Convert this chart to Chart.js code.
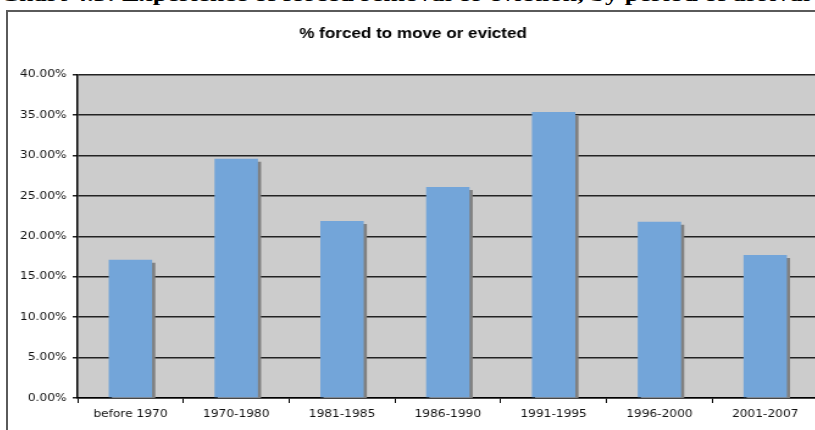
<!DOCTYPE html>
<html>
<head>
<meta charset="utf-8">
<script src="https://cdn.jsdelivr.net/npm/chart.js@4.4.1/dist/chart.umd.min.js"></script>
<style>
  html, body { margin: 0; padding: 0; background: #fff; overflow: hidden; }
  body { width: 815px; height: 430px; position: relative; }
  #cabecera {
    position: absolute; left: 0; top: -15px; white-space: nowrap;
    font: bold 19px "Liberation Serif", "Times New Roman", serif; line-height: 19px;
    transform-origin: left top; color: #000;
  }
  #marco {
    position: absolute; left: 6px; top: 10px; width: 860px; height: 440px;
    border: 2px solid #5a5a5a; background: #fff;
  }
  #estirar { position: absolute; left: 0; top: 0; transform: scaleX(1.22); transform-origin: left top; }
</style>
</head>
<body>
<div id="cabecera">Chart 4.3: Experience of forced removal or eviction, by period of arrival</div>
<div id="marco">
  <div id="estirar"><canvas id="grafico" width="672" height="420"></canvas></div>
</div>
<script>
const periodos = ['before 1970', '1970-1980', '1981-1985', '1986-1990', '1991-1995', '1996-2000', '2001-2007'];
const porcentajes = [17.1, 29.6, 21.9, 26.1, 35.4, 21.8, 17.7];
const marcasY = [0, 5, 10, 15, 20, 25, 30, 35, 40];
const titulo = '% forced to move or evicted';

// the header is stretched in the picture, fit it to the width
const cab = document.getElementById('cabecera');
cab.style.transform = 'scaleX(' + (810 / cab.offsetWidth) + ')';

const fondoGris = {
  id: 'fondoGris',
  beforeDraw(chart) {
    const { ctx, chartArea: a } = chart;
    ctx.save();
    ctx.fillStyle = '#cccccc';
    ctx.fillRect(a.left, a.top, a.right - a.left, a.bottom - a.top);
    ctx.restore();
  }
};

const sombra = {
  id: 'sombra',
  beforeDatasetsDraw(chart) {
    const ctx = chart.ctx;
    ctx.save();
    ctx.shadowColor = '#808080';
    ctx.shadowOffsetX = 2.6;
    ctx.shadowOffsetY = 3;
    ctx.shadowBlur = 0;
  },
  afterDatasetsDraw(chart) {
    chart.ctx.restore();
  }
};

const fuente = { family: '"DejaVu Sans", Verdana, sans-serif', size: 10 };

new Chart(document.getElementById('grafico'), {
  type: 'bar',
  data: {
    labels: periodos,
    datasets: [{
      data: porcentajes,
      backgroundColor: '#73a5d9',
      borderWidth: 0,
      categoryPercentage: 1,
      barPercentage: 0.41
    }]
  },
  options: {
    responsive: false,
    animation: false,
    layout: { padding: { left: 0, right: 8, top: 0, bottom: 0 } },
    plugins: {
      legend: { display: false },
      tooltip: { enabled: false },
      title: {
        display: true,
        text: titulo,
        color: '#000',
        font: { family: '"Liberation Sans", Arial, sans-serif', size: 14, weight: 'bold' },
        padding: { top: 14, bottom: 32 }
      }
    },
    scales: {
      x: {
        grid: { drawOnChartArea: false, drawTicks: true, tickLength: 5, color: '#000', offset: true },
        border: { color: '#000', width: 1.5 },
        ticks: { color: '#111', font: fuente, padding: 5, maxRotation: 0 },
        afterFit(s) { s.height = 34; }
      },
      y: {
        min: 0,
        max: 40,
        afterBuildTicks(s) { s.ticks = marcasY.map(v => ({ value: v })); },
        grid: { color: '#222', lineWidth: 1.5, tickLength: 4 },
        border: { color: '#000', width: 1.5 },
        ticks: {
          color: '#111', font: fuente, padding: 5,
          callback: v => v.toFixed(2) + '%'
        },
        afterFit(s) { s.width = 57; }
      }
    }
  },
  plugins: [fondoGris, sombra]
});
</script>
</body>
</html>
